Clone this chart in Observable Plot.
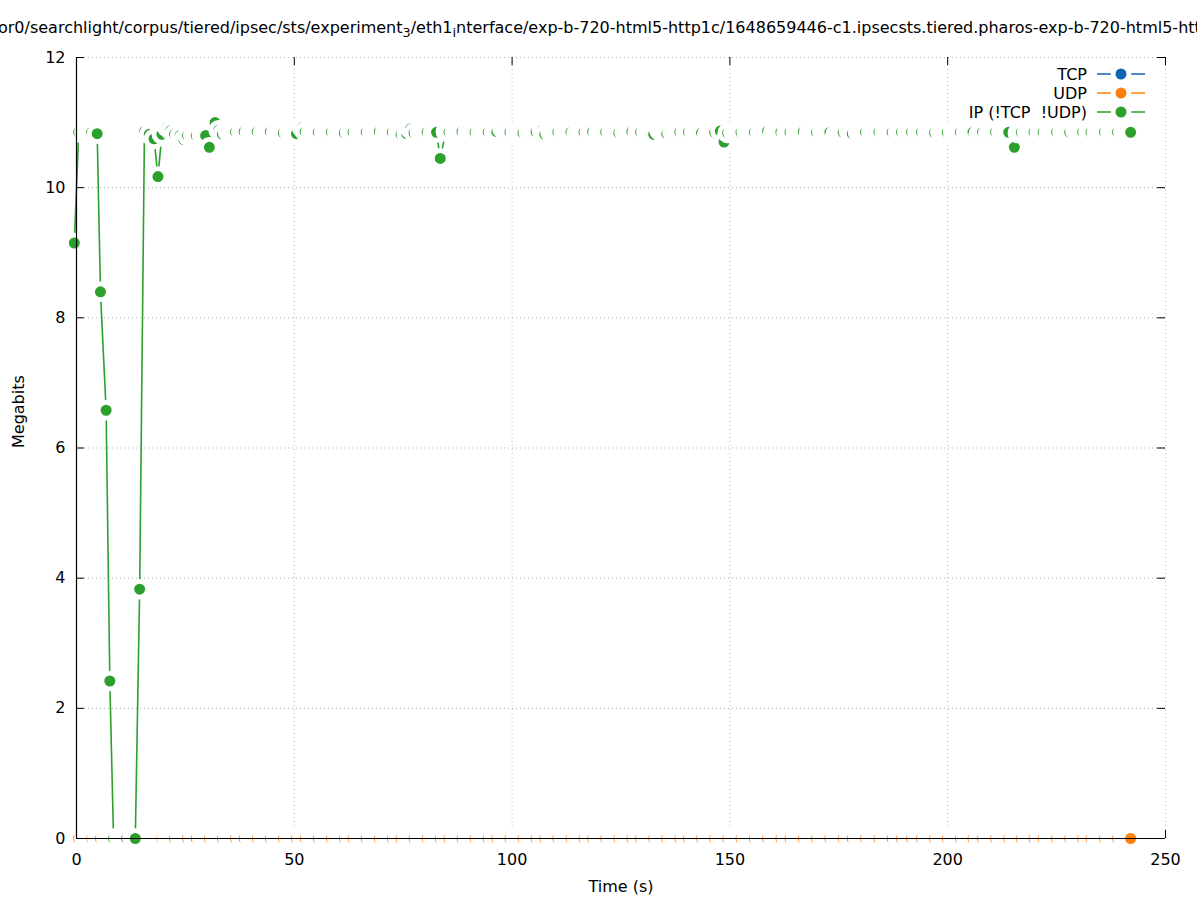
<!DOCTYPE html>
<html><head><meta charset="utf-8">
<script src="https://cdn.jsdelivr.net/npm/d3@7"></script>
<script src="https://cdn.jsdelivr.net/npm/@observablehq/plot@0.6"></script>
<style>
html,body{margin:0;padding:0;background:#fff;}
#wrap{position:relative;width:1197px;height:900px;overflow:hidden;font-family:"DejaVu Sans",sans-serif;}
#title{height:40px;line-height:40px;white-space:nowrap;overflow:hidden;font-size:16px;color:#000;}
#title span.t{display:inline-block;margin-left:-2px;position:relative;top:8px;}
.sub{font-size:12.8px;position:relative;top:4px;}
</style></head><body>
<div id="wrap">
<div id="title"><span class="t">or0/searchlight/corpus/tiered/ipsec/sts/experiment<span class="sub">3</span>/eth1<span class="sub">i</span>nterface/exp-b-720-html5-http1c/1648659446-c1.ipsecsts.tiered.pharos-exp-b-720-html5-http1c</span></div>
<div id="chart"></div>
</div>
<script>
// ---- data ----
const seriesNames = ["TCP", "UDP", "IP (!TCP  !UDP)"];
const seriesColors = ["#0f64b4", "#ff7f0e", "#2ca02c"];
const xTicks = [0, 50, 100, 150, 200, 250];
const yTicks = [0, 2, 4, 6, 8, 10, 12];

const timeSec = [
-0.5, 0.5, 1.8, 2.65, 3.5, 4.75, 5.5, 6.8, 7.65, 8.5,
9.8, 10.65, 11.5, 12.8, 13.5, 14.5, 15.6, 16.7, 17.8, 18.7,
19.6, 20.8, 21.65, 22.5, 23.8, 24.65, 25.5, 26.8, 27.5, 28.8,
29.65, 30.5, 31.8, 32.65, 33.5, 34.8, 35.65, 36.5, 37.8, 38.5,
39.8, 40.65, 41.5, 42.8, 43.65, 44.5, 45.8, 46.65, 47.5, 48.8,
49.65, 50.5, 51.8, 52.5, 53.8, 54.65, 55.5, 56.8, 57.65, 58.5,
59.8, 60.65, 61.5, 62.8, 63.5, 64.8, 65.65, 66.5, 67.8, 68.65,
69.5, 70.8, 71.65, 72.5, 73.8, 74.5, 75.8, 76.65, 77.5, 78.8,
79.65, 80.5, 81.8, 82.65, 83.5, 84.8, 85.5, 86.8, 87.65, 88.5,
89.8, 90.65, 91.5, 92.8, 93.65, 94.5, 95.8, 96.5, 97.8, 98.65,
99.5, 100.8, 101.65, 102.5, 103.8, 104.65, 105.5, 106.8, 107.5, 108.8,
109.65, 110.5, 111.8, 112.65, 113.5, 114.8, 115.65, 116.5, 117.8, 118.5,
119.8, 120.65, 121.5, 122.8, 123.65, 124.5, 125.8, 126.65, 127.5, 128.8,
129.5, 130.8, 131.65, 132.5, 133.8, 134.65, 135.5, 136.8, 137.65, 138.5,
139.8, 140.5, 141.8, 142.65, 143.5, 144.8, 145.65, 146.5, 147.8, 148.65,
149.5, 150.8, 151.65, 152.55, 153.85, 154.7, 155.6, 156.9, 157.75, 158.65,
159.95, 160.8, 161.7, 163.0, 163.8, 165.1, 165.95, 166.85, 168.15, 169.0,
169.9, 171.2, 172.05, 172.95, 174.25, 175.1, 176.0, 177.3, 178.1, 179.4,
180.25, 181.15, 182.45, 183.3, 184.2, 185.5, 186.35, 187.25, 188.55, 189.4,
190.7, 191.7, 193.0, 194.0, 195.3, 196.15, 197.0, 198.3, 199.1, 199.9,
201.2, 202.05, 202.9, 204.2, 205.0, 205.8, 207.1, 208.0, 209.3, 210.15,
211.0, 212.3, 213.1, 214.0, 215.3, 216.1, 216.9, 218.2, 219.0, 219.8,
221.1, 221.9, 223.2, 224.1, 225.0, 226.3, 227.15, 228.0, 229.3, 230.15,
231.0, 232.3, 232.9, 234.2, 235.1, 236.0, 237.3, 238.15, 239.0, 240.3,
241.15, 242.0
];

const tcpMbits = [
0,0,0,0,0,0,0,0,0,0,0,0,0,0,0,0,0,0,0,0,
0,0,0,0,0,0,0,0,0,0,0,0,0,0,0,0,0,0,0,0,
0,0,0,0,0,0,0,0,0,0,0,0,0,0,0,0,0,0,0,0,
0,0,0,0,0,0,0,0,0,0,0,0,0,0,0,0,0,0,0,0,
0,0,0,0,0,0,0,0,0,0,0,0,0,0,0,0,0,0,0,0,
0,0,0,0,0,0,0,0,0,0,0,0,0,0,0,0,0,0,0,0,
0,0,0,0,0,0,0,0,0,0,0,0,0,0,0,0,0,0,0,0,
0,0,0,0,0,0,0,0,0,0,0,0,0,0,0,0,0,0,0,0,
0,0,0,0,0,0,0,0,0,0,0,0,0,0,0,0,0,0,0,0,
0,0,0,0,0,0,0,0,0,0,0,0,0,0,0,0,0,0,0,0,
0,0,0,0,0,0,0,0,0,0,0,0,0,0,0,0,0,0,0,0,
0,0,0,0,0,0,0,0,0,0,0,0,0,0,0,0,0,0,0,0,
0,0
];

const udpMbits = [
0,0,0,0,0,0,0,0,0,0,0,0,0,0,0,0,0,0,0,0,
0,0,0,0,0,0,0,0,0,0,0,0,0,0,0,0,0,0,0,0,
0,0,0,0,0,0,0,0,0,0,0,0,0,0,0,0,0,0,0,0,
0,0,0,0,0,0,0,0,0,0,0,0,0,0,0,0,0,0,0,0,
0,0,0,0,0,0,0,0,0,0,0,0,0,0,0,0,0,0,0,0,
0,0,0,0,0,0,0,0,0,0,0,0,0,0,0,0,0,0,0,0,
0,0,0,0,0,0,0,0,0,0,0,0,0,0,0,0,0,0,0,0,
0,0,0,0,0,0,0,0,0,0,0,0,0,0,0,0,0,0,0,0,
0,0,0,0,0,0,0,0,0,0,0,0,0,0,0,0,0,0,0,0,
0,0,0,0,0,0,0,0,0,0,0,0,0,0,0,0,0,0,0,0,
0,0,0,0,0,0,0,0,0,0,0,0,0,0,0,0,0,0,0,0,
0,0,0,0,0,0,0,0,0,0,0,0,0,0,0,0,0,0,0,0,
0,0
];

const ipMbits = [
9.15, 10.85, 10.85, 10.85, 10.85, 10.83, 8.40, 6.58, 2.42, 0,
0, 0, 0, 0, 0, 3.83, 10.86, 10.82, 10.75, 10.17,
10.82, 10.93, 10.88, 10.82, 10.80, 10.74, 10.80, 10.80, 10.80, 10.80,
10.80, 10.62, 11.00, 10.88, 10.82, 10.85, 10.86, 10.85, 10.85, 10.86,
10.85, 10.85, 10.86, 10.85, 10.85, 10.86, 10.85, 10.85, 10.84, 10.85,
10.85, 10.83, 10.92, 10.86, 10.85, 10.85, 10.85, 10.85, 10.84, 10.85,
10.85, 10.85, 10.84, 10.85, 10.85, 10.85, 10.86, 10.85, 10.85, 10.85,
10.86, 10.85, 10.85, 10.85, 10.85, 10.82, 10.83, 10.90, 10.84, 10.85,
10.85, 10.85, 10.84, 10.85, 10.45, 10.86, 10.85, 10.85, 10.85, 10.86,
10.85, 10.85, 10.85, 10.85, 10.84, 10.85, 10.85, 10.86, 10.90, 10.86,
10.85, 10.85, 10.85, 10.84, 10.85, 10.85, 10.86, 10.88, 10.82, 10.85,
10.85, 10.85, 10.85, 10.86, 10.85, 10.83, 10.85, 10.85, 10.85, 10.86,
10.85, 10.85, 10.85, 10.85, 10.85, 10.84, 10.85, 10.85, 10.86, 10.85,
10.85, 10.85, 10.85, 10.82, 10.88, 10.85, 10.83, 10.85, 10.85, 10.85,
10.85, 10.85, 10.85, 10.85, 10.84, 10.82, 10.85, 10.85, 10.87, 10.70,
10.84, 10.85, 10.85, 10.85, 10.86, 10.85, 10.85, 10.85, 10.85, 10.87,
10.85, 10.85, 10.85, 10.84, 10.85, 10.85, 10.85, 10.86, 10.85, 10.85,
10.85, 10.86, 10.85, 10.85, 10.82, 10.85, 10.85, 10.87, 10.83, 10.85,
10.85, 10.85, 10.85, 10.86, 10.85, 10.85, 10.84, 10.85, 10.85, 10.85,
10.85, 10.85, 10.85, 10.85, 10.85, 10.85, 10.84, 10.85, 10.85, 10.85,
10.86, 10.85, 10.85, 10.85, 10.87, 10.85, 10.82, 10.85, 10.83, 10.85,
10.85, 10.85, 10.86, 10.85, 10.62, 10.84, 10.85, 10.85, 10.82, 10.85,
10.85, 10.85, 10.85, 10.85, 10.85, 10.85, 10.86, 10.85, 10.87, 10.85,
10.85, 10.85, 10.85, 10.85, 10.86, 10.85, 10.85, 10.85, 10.85, 10.85,
10.85, 10.85
];

// ---- build ----
const seriesValues = [tcpMbits, udpMbits, ipMbits];
const series = seriesValues.map((vals, i) => {
  const n = Math.min(vals.length, timeSec.length);
  const data = [];
  for (let k = 0; k < n; k++) data.push({t: timeSec[k], v: vals[k]});
  return {name: seriesNames[i], color: seriesColors[i], data};
});

const W = 1197, H = 860;
const mL = 76, mR = 32, mT = 17, mB = 62;
const plotW = W - mL - mR, plotH = H - mT - mB;
const tickLen = 8;
const grid = {stroke: "#b4b4b4", strokeWidth: 1, strokeDasharray: "1,3"};
const dotR = 7.9, haloW = 4.8;

const chart = Plot.plot({
  width: W, height: H,
  marginLeft: mL, marginRight: mR, marginTop: mT, marginBottom: mB,
  style: {fontFamily: '"DejaVu Sans", sans-serif', fontSize: "16px", color: "#000", background: "#fff", overflow: "visible"},
  x: {domain: [0, 250], axis: null},
  y: {domain: [0, 12], axis: null},
  marks: [
    Plot.ruleY(yTicks.filter(d => d > 0), grid),
    Plot.ruleX(xTicks.filter(d => d > 0), grid),
    Plot.ruleY(yTicks, {stroke: "#000", insetRight: plotW - tickLen}),
    Plot.ruleY(yTicks, {stroke: "#000", insetLeft: plotW - tickLen}),
    Plot.ruleX(xTicks, {stroke: "#000", insetTop: plotH - tickLen}),
    Plot.ruleX(xTicks, {stroke: "#000", insetBottom: plotH - tickLen}),
    ...series.flatMap(s => [
      Plot.line(s.data, {x: "t", y: "v", stroke: s.color, strokeWidth: 1.6}),
      Plot.dot(s.data, {x: "t", y: "v", r: dotR, fill: s.color, stroke: "#fff", strokeWidth: haloW})
    ]),
    Plot.ruleY([0], {stroke: "#000", strokeWidth: 1.2}),
    Plot.ruleX([0], {stroke: "#000", strokeWidth: 1.2}),
    Plot.axisY({ticks: yTicks, anchor: "left", tickSize: 0, tickPadding: 11, label: null, fill: "#000"}),
    Plot.axisX({ticks: xTicks, anchor: "bottom", tickSize: 0, tickPadding: 15, label: null, fill: "#000"}),
    Plot.text(["Time (s)"], {frameAnchor: "bottom", dy: 53, fill: "#000"}),
    Plot.text(["Megabits"], {frameAnchor: "left", dx: -58, rotate: -90, fill: "#000"})
  ]
});

// legend (top right, inside the frame)
const svg = d3.select(chart);
const lg = svg.append("g").attr("font-family", '"DejaVu Sans", sans-serif').attr("font-size", 16);
const lgTextX = 1087, lgX1 = 1097, lgX2 = 1145, lgDotX = 1121, lgY0 = 34, lgStep = 19;
seriesNames.forEach((name, i) => {
  const y = lgY0 + i * lgStep;
  lg.append("text").attr("x", lgTextX).attr("y", y).attr("dy", "0.35em")
    .attr("text-anchor", "end").attr("fill", "#000")
    .attr("xml:space", "preserve").style("white-space", "pre").text(name);
  lg.append("line").attr("x1", lgX1).attr("x2", lgX2).attr("y1", y).attr("y2", y)
    .attr("stroke", seriesColors[i]).attr("stroke-width", 1.6);
  lg.append("circle").attr("cx", lgDotX).attr("cy", y).attr("r", dotR)
    .attr("fill", seriesColors[i]).attr("stroke", "#fff").attr("stroke-width", haloW);
});

document.getElementById("chart").appendChild(chart);
</script>
</body></html>
